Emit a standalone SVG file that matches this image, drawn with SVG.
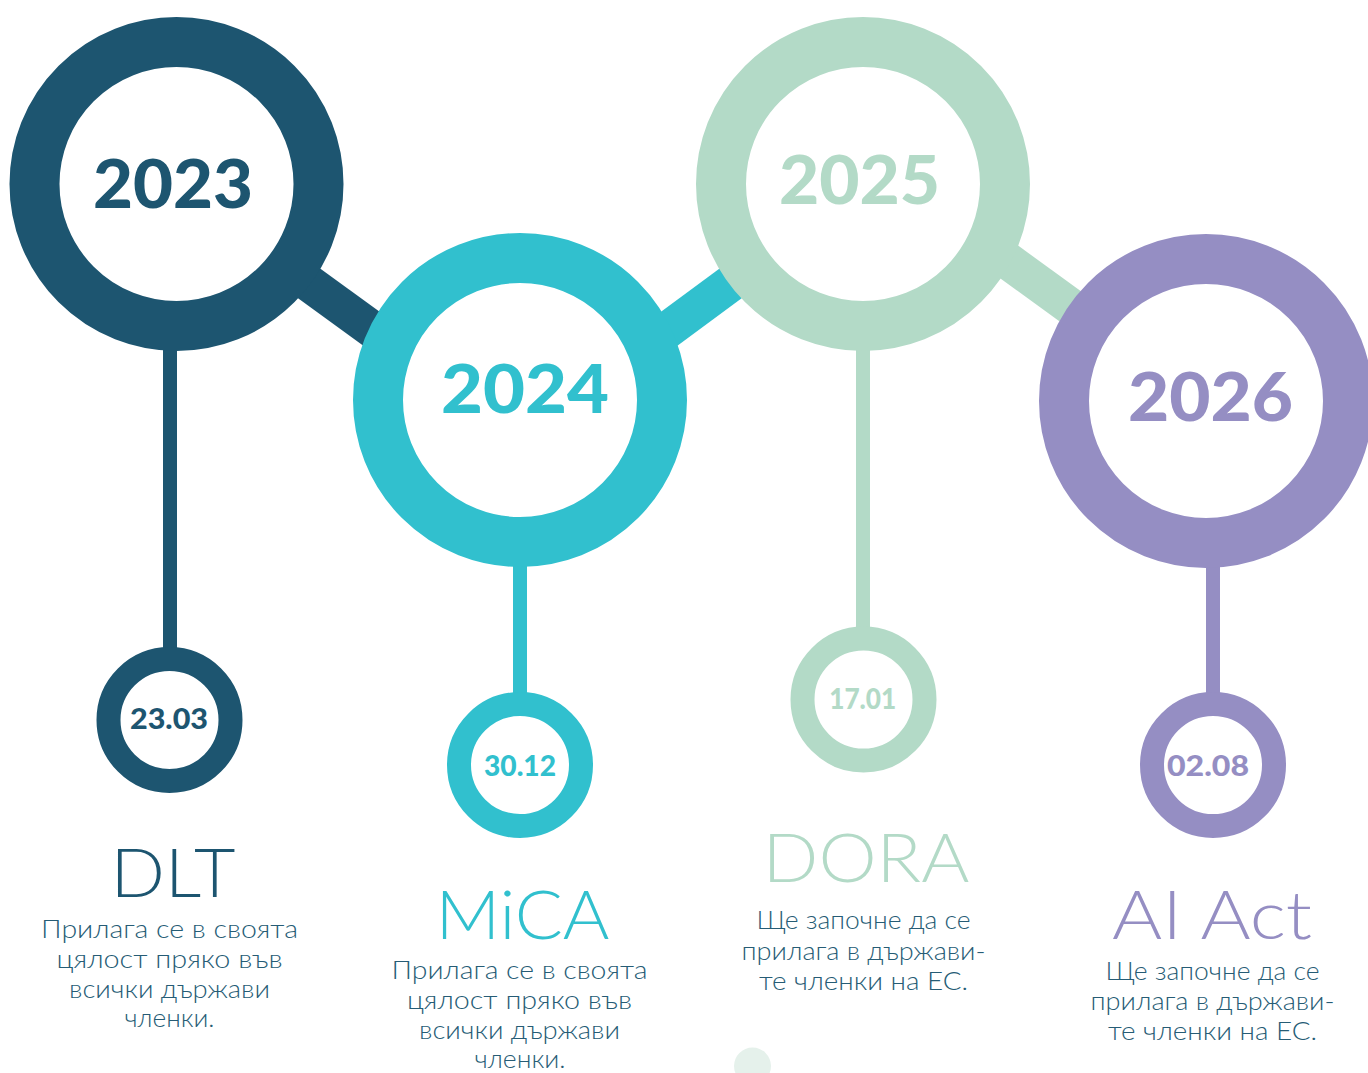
<svg xmlns="http://www.w3.org/2000/svg" width="1368" height="1073" viewBox="0 0 1368 1073">
  <style>
    .ring { fill: #ffffff; stroke-width: 50; }
    .small { fill: #ffffff; stroke-width: 24; }
    .year { font-family: Lato, "Liberation Sans", sans-serif; font-weight: 900; font-size: 66px; text-anchor: middle; }
    .date { font-family: Lato, "Liberation Sans", sans-serif; font-weight: 900; font-size: 29px; text-anchor: middle; }
    .title { font-family: Lato, "Liberation Sans", sans-serif; font-weight: 300; font-size: 67px; text-anchor: middle; }
    .desc { font-family: Lato, "Open Sans", "Liberation Sans", sans-serif; font-weight: 300; font-size: 25.5px; text-anchor: middle; fill: #265c75; }
    .c1 { stroke: #1d5570; } .f1 { fill: #1d5570; }
    .c2 { stroke: #31c0ce; } .f2 { fill: #31c0ce; }
    .c3 { stroke: #b3dac7; } .f3 { fill: #b3dac7; }
    .c4 { stroke: #958ec3; } .f4 { fill: #958ec3; }
    .bar { stroke-width: 37; stroke-linecap: butt; fill: none; }
    .stem { stroke-width: 14; fill: none; }
  </style>
  <rect width="1368" height="1073" fill="#ffffff"/>
  <circle cx="752.5" cy="1066" r="18.5" fill="#e5f1eb"/>
  <g id="connectors">
    <line class="bar c1" x1="189" y1="196" x2="431" y2="372"/>
    <line class="bar c2" x1="570" y1="402" x2="811" y2="224"/>
    <line class="bar c3" x1="886" y1="172.5" x2="1129" y2="349"/>
    <line class="stem c1" x1="170" y1="330" x2="170" y2="670"/>
    <line class="stem c2" x1="520" y1="550" x2="520" y2="710"/>
    <line class="stem c3" x1="863" y1="330" x2="863" y2="650"/>
    <line class="stem c4" x1="1213" y1="550" x2="1213" y2="710"/>
  </g>
  <g id="node-2023">
    <circle class="ring c1" cx="176.5" cy="184" r="142"/>
    <text class="year f1" x="173" y="208" textLength="160" lengthAdjust="spacingAndGlyphs">2023</text>
  </g>
  <g id="node-2024">
    <circle class="ring c2" cx="520" cy="400" r="142"/>
    <text class="year f2" x="525" y="413" textLength="168" lengthAdjust="spacingAndGlyphs">2024</text>
  </g>
  <g id="node-2025">
    <circle class="ring c3" cx="863" cy="184" r="142"/>
    <text class="year f3" x="859.5" y="204" textLength="161" lengthAdjust="spacingAndGlyphs">2025</text>
  </g>
  <g id="node-2026">
    <circle class="ring c4" cx="1206" cy="401" r="142"/>
    <text class="year f4" x="1210.5" y="421" textLength="165" lengthAdjust="spacingAndGlyphs">2026</text>
  </g>
  <g id="node-dlt">
    <circle class="small c1" cx="169.5" cy="720" r="61"/>
    <text class="date f1" x="169" y="729" textLength="78" lengthAdjust="spacingAndGlyphs">23.03</text>
    <text class="title f1" x="173" y="897" textLength="125" lengthAdjust="spacingAndGlyphs">DLT</text>
    <text class="desc" x="169.5" y="938" textLength="257" lengthAdjust="spacingAndGlyphs">Прилага се в своята</text>
    <text class="desc" x="169.5" y="968" textLength="226" lengthAdjust="spacingAndGlyphs">цялост пряко във</text>
    <text class="desc" x="169.5" y="998" textLength="201" lengthAdjust="spacingAndGlyphs">всички държави</text>
    <text class="desc" x="169.5" y="1027" textLength="90" lengthAdjust="spacingAndGlyphs">членки.</text>
  </g>
  <g id="node-mica">
    <circle class="small c2" cx="520" cy="765" r="61"/>
    <text class="date f2" x="520" y="776" textLength="72" lengthAdjust="spacingAndGlyphs">30.12</text>
    <text class="title f2" x="522.5" y="939" textLength="174" lengthAdjust="spacingAndGlyphs">MiCA</text>
    <text class="desc" x="519.5" y="979" textLength="256" lengthAdjust="spacingAndGlyphs">Прилага се в своята</text>
    <text class="desc" x="519.5" y="1009" textLength="225" lengthAdjust="spacingAndGlyphs">цялост пряко във</text>
    <text class="desc" x="519.5" y="1039" textLength="201" lengthAdjust="spacingAndGlyphs">всички държави</text>
    <text class="desc" x="520" y="1068" textLength="91" lengthAdjust="spacingAndGlyphs">членки.</text>
  </g>
  <g id="node-dora">
    <circle class="small c3" cx="863.5" cy="699.5" r="61"/>
    <text class="date f3" x="862.7" y="709" textLength="67" lengthAdjust="spacingAndGlyphs">17.01</text>
    <text class="title f3" x="866" y="882" textLength="207" lengthAdjust="spacingAndGlyphs">DORA</text>
    <text class="desc" x="863.5" y="929" textLength="214" lengthAdjust="spacingAndGlyphs">Ще започне да се</text>
    <text class="desc" x="863.5" y="960" textLength="244" lengthAdjust="spacingAndGlyphs">прилага в държави-</text>
    <text class="desc" x="863.5" y="990" textLength="209" lengthAdjust="spacingAndGlyphs">те членки на ЕС.</text>
  </g>
  <g id="node-aiact">
    <circle class="small c4" cx="1213" cy="765" r="61"/>
    <text class="date f4" x="1208" y="776" textLength="82" lengthAdjust="spacingAndGlyphs">02.08</text>
    <text class="title f4" x="1212" y="939" textLength="200" lengthAdjust="spacingAndGlyphs">AI Act</text>
    <text class="desc" x="1212.5" y="980" textLength="214" lengthAdjust="spacingAndGlyphs">Ще започне да се</text>
    <text class="desc" x="1212.5" y="1010" textLength="244" lengthAdjust="spacingAndGlyphs">прилага в държави-</text>
    <text class="desc" x="1212.5" y="1040" textLength="209" lengthAdjust="spacingAndGlyphs">те членки на ЕС.</text>
  </g>
</svg>
